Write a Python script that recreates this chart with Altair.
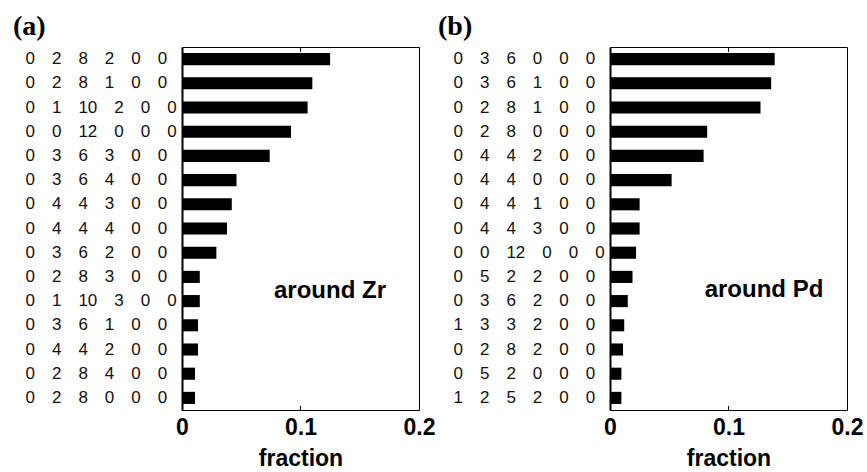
import altair as alt
import pandas as pd

# Panel (a): around Zr
zr_labels = ["0 2 8 2 0 0", "0 2 8 1 0 0", "0 1 10 2 0 0", "0 0 12 0 0 0",
             "0 3 6 3 0 0", "0 3 6 4 0 0", "0 4 4 3 0 0", "0 4 4 4 0 0",
             "0 3 6 2 0 0", "0 2 8 3 0 0", "0 1 10 3 0 0", "0 3 6 1 0 0",
             "0 4 4 2 0 0", "0 2 8 4 0 0", "0 2 8 0 0 0"]
zr_values = [0.125, 0.110, 0.106, 0.092, 0.074, 0.046, 0.042, 0.038,
             0.029, 0.015, 0.015, 0.0135, 0.0135, 0.011, 0.011]

# Panel (b): around Pd
pd_labels = ["0 3 6 0 0 0", "0 3 6 1 0 0", "0 2 8 1 0 0", "0 2 8 0 0 0",
             "0 4 4 2 0 0", "0 4 4 0 0 0", "0 4 4 1 0 0", "0 4 4 3 0 0",
             "0 0 12 0 0 0", "0 5 2 2 0 0", "0 3 6 2 0 0", "1 3 3 2 0 0",
             "0 2 8 2 0 0", "0 5 2 0 0 0", "1 2 5 2 0 0"]
pd_values = [0.139, 0.136, 0.127, 0.082, 0.079, 0.052, 0.025, 0.025,
             0.022, 0.019, 0.015, 0.012, 0.011, 0.0096, 0.0096]

x_ticks = [0, 0.1, 0.2]
inner_ticks = [0.1]

SP = "\u2003"
W, H = 237, 363


def fmt(s):
    return SP.join(s.split(" "))


def panel(labels, values, tag, note, title_dx, note_x, note_y):
    df = pd.DataFrame({"cfg": [fmt(l) for l in labels], "fraction": values})
    x = alt.X(
        "fraction:Q",
        scale=alt.Scale(domain=[0, 0.2], nice=False, zero=True),
        axis=alt.Axis(values=x_ticks, format=".1~f", ticks=False, grid=False,
                      domain=False, labelFont="Liberation Sans", labelFontSize=23,
                      labelFontWeight="bold", labelColor="black", labelPadding=6,
                      labelFlush=False, title="fraction", titleFont="Liberation Sans",
                      titleFontSize=23, titleFontWeight="bold", titleColor="black",
                      titlePadding=8),
    )
    y = alt.Y(
        "cfg:N", sort=None,
        scale=alt.Scale(paddingInner=0.5, paddingOuter=0.25),
        axis=alt.Axis(title=None, ticks=False, grid=False, domain=True,
                      domainColor="black", domainWidth=2, labelAlign="left",
                      labelPadding=157, labelFont="Liberation Sans", labelFontSize=17,
                      labelColor="#111111", labelLimit=400),
    )
    bars = alt.Chart(df).mark_bar(color="black").encode(x=x, y=y)
    tdf = pd.DataFrame({"fraction": inner_ticks})
    top_t = alt.Chart(tdf).mark_rule(color="black", strokeWidth=1).encode(
        x=alt.X("fraction:Q"), y=alt.value(0), y2=alt.value(5))
    bot_t = alt.Chart(tdf).mark_rule(color="black", strokeWidth=1).encode(
        x=alt.X("fraction:Q"), y=alt.value(H - 4), y2=alt.value(H))
    ndf = pd.DataFrame({"t": [note]})
    txt = alt.Chart(ndf).mark_text(font="Liberation Sans", fontSize=24,
                                   fontWeight="bold", color="black",
                                   align="center", baseline="middle").encode(
        text="t:N", x=alt.value(note_x), y=alt.value(note_y))
    return alt.layer(bars, top_t, bot_t, txt).properties(
        width=W, height=H,
        title=alt.TitleParams(tag, anchor="start", frame="group",
                              font="Liberation Serif",
                              fontSize=28, fontWeight="bold", color="black",
                              dx=title_dx, offset=6),
    )


left = panel(zr_labels, zr_values, "(a)", "around Zr", -169, 148, 244)
right = panel(pd_labels, pd_values, "(b)", "around Pd", -172, 154, 243)

chart = alt.hconcat(left, right, spacing=1).configure_view(
    stroke="black", strokeWidth=1
).properties(padding={"left": 12, "top": 12, "right": 0, "bottom": 0},
             background="white")

chart.save("out.html", embed_options={"renderer": "svg", "actions": False})
